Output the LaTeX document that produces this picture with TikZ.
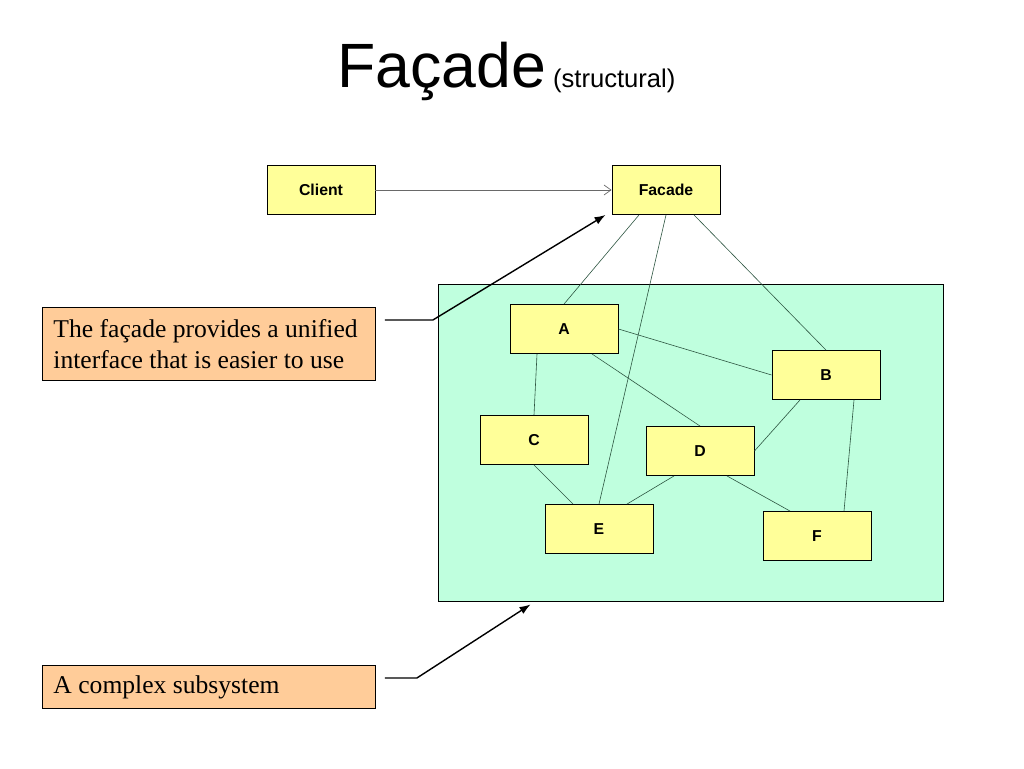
\documentclass[tikz,border=0pt]{standalone}
\usepackage{fontspec}
\setmainfont{Liberation Sans}
\newfontfamily\notefont{Liberation Serif}
\usepackage{tikz}
\usetikzlibrary{arrows}
\usetikzlibrary{arrows.meta}
\definecolor{clsfill}{RGB}{255,255,153}
\definecolor{subfill}{RGB}{191,255,222}
\definecolor{notefill}{RGB}{255,204,153}
\definecolor{linkc}{RGB}{45,85,65}
\definecolor{callc}{RGB}{105,105,105}
\tikzstyle{cls}=[draw, fill=clsfill, line width=0.9pt, minimum width=108pt, minimum height=49pt, inner sep=0pt, font=\fontsize{15.8}{18}\selectfont\bfseries]
\tikzstyle{pkg}=[draw, fill=subfill, line width=0.9pt, minimum width=505pt, minimum height=317pt, inner sep=0pt]
\tikzstyle{note}=[draw, fill=notefill, line width=0.9pt, inner xsep=11pt, inner ysep=0pt, align=flush left, font=\notefont\fontsize{25.6}{31}\selectfont]
\tikzstyle{assoc}=[draw=linkc, line width=0.6pt]
\tikzstyle{callout}=[->, >={Latex[length=11pt,width=8pt]}, line width=1.4pt]

\begin{document}
\begin{tikzpicture}[x=1pt,y=-1pt,node distance=345pt,>=latex']
    \useasboundingbox (0,0) rectangle (1024,768);
    % title
    \node [anchor=base west, inner sep=0pt] (title) at (337,87) {\fontsize{62.6}{70}\selectfont Façade{\fontsize{25.6}{30}\selectfont\ (structural)}};
    % client and facade
    \node [cls] (client) at (321,190) {Client};
    \node [cls] (facade) [right of=client] {Facade};
    % the subsystem
    \node [pkg] (sub) at (690.5,442.5) {};
    \node [cls] (a) at (564,329) {A};
    \node [cls] (b) at (826,375) {B};
    \node [cls] (c) at (534,440) {C};
    \node [cls] (d) at (700,451) {D};
    \node [cls] (e) at (599,529) {E};
    \node [cls] (f) at (817,536) {F};
    % notes
    \node [note, anchor=north west, text width=311pt, minimum height=73pt] (note1) at (42,307) {The façade provides a unified\\interface that is easier to use};
    \node [note, anchor=north west, text width=311pt, minimum height=43pt] (note2) at (42,665) {A complex subsystem};
    \path[->, >={Straight Barb[length=7pt,width=10pt]}, draw=callc, line width=0.7pt] (client) edge (facade);
    \path[assoc] ([xshift=-27pt]facade.south) edge (a.north)
        (facade.south) edge (e.north)
        ([xshift=28pt]facade.south) edge (b.north)
        (a.east) edge (b.west)
        ([xshift=-27pt]a.south) edge (c.north)
        ([xshift=28pt]a.south) edge (d.north)
        ([xshift=-26pt]b.south) edge (d.east)
        ([xshift=28pt]b.south) edge ([xshift=27pt]f.north)
        (c.south) edge ([xshift=-26pt]e.north)
        ([xshift=-26pt]d.south) edge ([xshift=28pt]e.north)
        ([xshift=27pt]d.south) edge ([xshift=-27pt]f.north);
    \coordinate (n1) at ([xshift=9pt,yshift=-13pt]note1.north east);
    \coordinate (n2) at ([xshift=9pt,yshift=-13pt]note2.north east);
    \draw[callout] (n1) -- ++(48,0) -- ([xshift=-6pt]facade.south west);
    \draw[callout] (n2) -- ++(32,0) -- ([xshift=93pt,yshift=-3pt]sub.south west);
\end{tikzpicture}
\end{document}
